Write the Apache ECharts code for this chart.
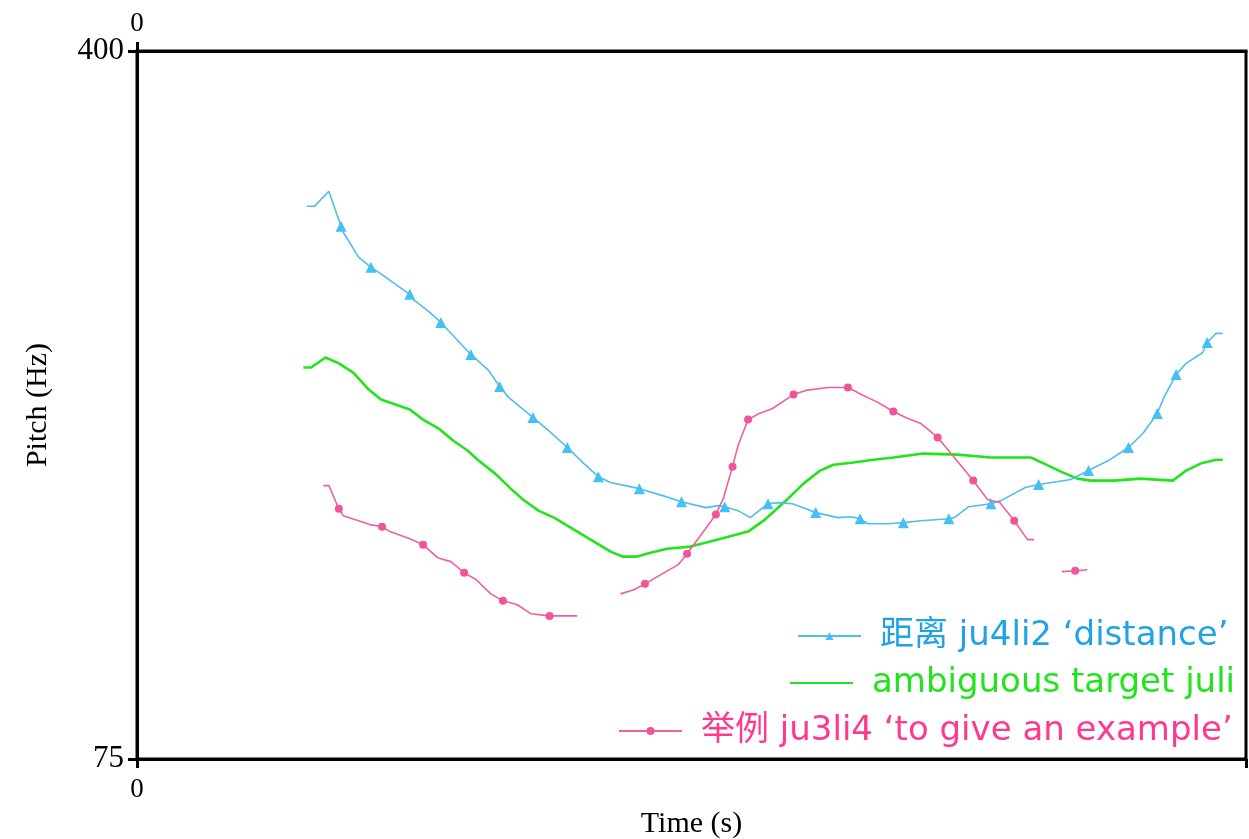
<!DOCTYPE html>
<html>
<head>
<meta charset="utf-8">
<script src="https://cdn.jsdelivr.net/npm/echarts@6/dist/echarts.min.js"></script>
<style>
html,body{margin:0;padding:0;background:#fff;}
#chart{width:1249px;height:839px;}
</style>
</head>
<body>
<div id="chart"></div>
<script>
// ---- data (time as fraction of the window, pitch in Hz) ----
const seriesNames = ['距离 ju4li2 ‘distance’', 'ambiguous target juli', '举例 ju3li4 ‘to give an example’'];

const distanceTime = [0.153,0.160,0.173,0.184,0.186,0.200,0.211,0.218,0.246,0.249,0.264,0.274,0.301,0.317,0.327,0.335,0.346,0.357,0.373,0.388,0.403,0.416,0.427,0.453,0.474,0.491,0.513,0.524,0.530,0.542,0.553,0.569,0.578,0.591,0.612,0.632,0.644,0.652,0.659,0.677,0.691,0.707,0.732,0.737,0.750,0.770,0.779,0.801,0.813,0.842,0.858,0.876,0.894,0.907,0.920,0.926,0.937,0.946,0.961,0.965,0.973,0.979];
const distancePitch = [328.7,328.7,335.6,319.6,316.8,305.3,300.7,298.4,288.3,286.0,280.0,275.4,260.7,253.4,246.0,241.0,236.4,231.8,224.9,218.0,210.6,204.6,201.9,199.1,195.9,193.1,190.4,191.3,190.8,189.0,185.8,192.2,192.7,192.2,188.1,185.8,186.2,185.3,183.0,183.0,183.5,184.4,185.3,185.8,190.8,192.2,193.6,199.6,201.0,203.3,207.4,212.0,218.0,224.4,233.6,241.0,251.5,256.6,261.6,266.2,270.4,270.4];
const distanceMarkers = [3,6,8,11,12,14,17,19,21,23,25,28,31,34,37,40,42,45,48,50,52,54,56,59];

const targetTime = [0.150,0.157,0.170,0.182,0.195,0.209,0.220,0.246,0.258,0.272,0.285,0.298,0.308,0.323,0.337,0.348,0.362,0.376,0.391,0.409,0.427,0.438,0.451,0.463,0.478,0.499,0.517,0.551,0.565,0.587,0.601,0.616,0.628,0.646,0.664,0.682,0.709,0.740,0.770,0.806,0.818,0.833,0.848,0.860,0.881,0.905,0.934,0.946,0.959,0.973,0.979];
const targetPitch = [254.7,254.7,259.3,256.6,252.4,244.6,240.0,235.4,230.8,226.7,221.2,216.6,212.0,206.0,199.1,194.1,189.0,185.8,181.2,175.7,170.2,167.9,167.9,169.7,171.5,172.5,174.8,179.4,184.4,194.5,201.4,207.4,210.1,211.1,212.4,213.4,215.2,214.7,213.4,213.4,210.6,206.9,203.7,202.8,202.8,203.7,202.8,207.4,210.6,212.4,212.4];

const exampleTime = [0.168,0.173,0.182,0.186,0.210,0.221,0.228,0.246,0.258,0.271,0.283,0.295,0.306,0.319,0.330,0.343,0.355,0.372,0.397,0.415,0.436,0.448,0.458,0.488,0.496,0.508,0.522,0.529,0.537,0.542,0.551,0.561,0.573,0.592,0.603,0.623,0.641,0.655,0.668,0.682,0.695,0.707,0.722,0.737,0.754,0.767,0.778,0.791,0.803,0.809,0.820,0.834,0.846,0.857];
const examplePitch = [200.5,200.5,189.9,186.7,182.6,181.6,179.4,176.1,173.4,167.4,165.6,160.5,157.3,150.8,147.6,145.8,141.7,140.7,140.7,null,150.8,152.7,155.4,164.2,169.2,177.5,187.2,195.0,209.2,218.9,230.8,233.6,235.9,242.3,244.2,245.5,245.5,241.9,238.7,234.5,231.3,229.0,222.6,213.4,202.8,194.1,192.7,184.4,175.7,175.7,null,161.0,161.4,161.9];
const exampleMarkers = [2,5,8,11,14,17,22,24,26,28,30,33,36,39,42,44,47,52];

const yTicks = [75, 400];
const xTicksBottom = [0, 1];
const xLabels = [0];

// ---- build ----
function build(times, pitches, markers) {
  return times.map((t, i) => {
    const v = [t, pitches[i] == null ? '-' : pitches[i]];
    if (markers && markers.indexOf(i) >= 0) return { value: v };
    return { value: v, symbol: 'none' };
  });
}

const serif = "'Liberation Serif', 'Times New Roman', serif";
const sans = "'DejaVu Sans', 'Noto Sans CJK SC', sans-serif";
const blue = '#4fbdee', green = '#22e41c', pink = '#f0609c';

const chart = echarts.init(document.getElementById('chart'), null, { renderer: 'canvas' });

function legendCfg(name, left, top, color, extra) {
  return {
    data: [Object.assign({ name: name }, extra || {})],
    left: left, top: top, padding: 0,
    itemWidth: 63, itemHeight: 10,
    selectedMode: false,
    textStyle: { color: color, fontSize: 34, fontFamily: sans, padding: [0, 0, 0, 14] }
  };
}

chart.setOption({
  animation: false,
  backgroundColor: '#fff',
  grid: { left: 137, top: 51, right: 3, bottom: 80, show: true, borderColor: '#000', borderWidth: 3, backgroundColor: 'transparent', containLabel: false, outerBoundsMode: 'none' },
  xAxis: [
    {
      type: 'value', position: 'bottom', min: 0, max: 1, interval: 1,
      name: 'Time (s)', nameLocation: 'middle', nameGap: 50,
      nameTextStyle: { fontFamily: serif, fontSize: 30, color: '#000' },
      axisLine: { show: true, lineStyle: { color: '#000', width: 3 } },
      axisTick: { show: true, length: 9, lineStyle: { color: '#000', width: 3 }, customValues: xTicksBottom },
      axisLabel: { show: true, margin: 17, fontFamily: serif, fontSize: 27, color: '#000', customValues: xLabels, formatter: v => v === 0 ? '0' : '' },
      splitLine: { show: false }
    },
    {
      type: 'value', position: 'top', min: 0, max: 1, interval: 1,
      axisLine: { show: true, lineStyle: { color: '#000', width: 3 } },
      axisTick: { show: true, length: 9, lineStyle: { color: '#000', width: 3 }, customValues: xLabels },
      axisLabel: { show: true, margin: 14, fontFamily: serif, fontSize: 27, color: '#000', customValues: xLabels, formatter: v => v === 0 ? '0' : '' },
      splitLine: { show: false }
    }
  ],
  yAxis: {
    type: 'value', min: 75, max: 400, interval: 325,
    name: 'Pitch (Hz)', nameLocation: 'middle', nameGap: 84,
    nameTextStyle: { fontFamily: serif, fontSize: 30, color: '#000' },
    axisLine: { show: true, lineStyle: { color: '#000', width: 3 } },
    axisTick: { show: true, length: 9, lineStyle: { color: '#000', width: 3 }, customValues: yTicks },
    axisLabel: { show: true, margin: 13, fontFamily: serif, fontSize: 31, color: '#000', customValues: yTicks },
    splitLine: { show: false }
  },
  legend: [
    legendCfg(seriesNames[0], 797, 619, '#22a2e6'),
    legendCfg(seriesNames[1], 789, 666, '#22e41c', { itemStyle: { opacity: 0 } }),
    legendCfg(seriesNames[2], 618, 714, '#ff3a8e')
  ],
  series: [
    {
      name: seriesNames[0], type: 'line', xAxisIndex: 0,
      data: build(distanceTime, distancePitch, distanceMarkers),
      symbol: 'triangle', symbolSize: 11, showSymbol: true,
      lineStyle: { color: blue, width: 1.6 },
      itemStyle: { color: '#45c0f2' },
      emphasis: { disabled: true }, silent: true, z: 3
    },
    {
      name: seriesNames[1], type: 'line', xAxisIndex: 0,
      data: build(targetTime, targetPitch, []),
      symbol: 'circle', showSymbol: false,
      lineStyle: { color: green, width: 2.6 },
      itemStyle: { color: green },
      emphasis: { disabled: true }, silent: true, z: 2
    },
    {
      name: seriesNames[2], type: 'line', xAxisIndex: 0,
      data: build(exampleTime, examplePitch, exampleMarkers),
      symbol: 'circle', symbolSize: 8, showSymbol: true, connectNulls: false,
      lineStyle: { color: pink, width: 1.6 },
      itemStyle: { color: '#f0559a' },
      emphasis: { disabled: true }, silent: true, z: 4
    }
  ]
});
</script>
</body>
</html>
